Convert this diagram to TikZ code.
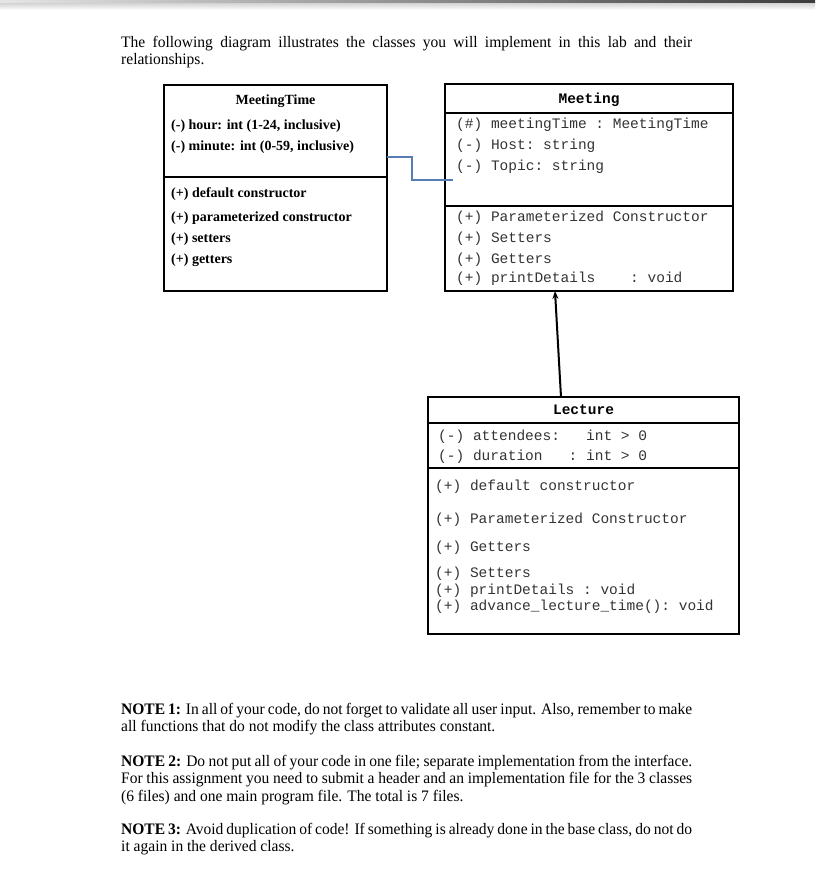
\documentclass[tikz,border=0pt]{standalone}
\usepackage{fontspec}
\setmainfont{Liberation Serif}
\setmonofont{Liberation Mono}
\newfontfamily\notefont[FakeStretch=0.97]{Liberation Serif}
\usetikzlibrary{arrows.meta,positioning,calc}
\definecolor{assocblue}{RGB}{88,124,180}
\definecolor{bandgray}{RGB}{60,60,60}

\begin{document}
\begin{tikzpicture}[x=1pt, y=-1pt, >=Stealth,
	classbox/.style={draw=black, line width=1.6pt, anchor=north west, inner sep=0pt, outer sep=0pt},
	divider/.style={line width=1.6pt, color=black},
	mtline/.style={anchor=base west, inner sep=0pt, font=\fontsize{14}{16}\selectfont\bfseries},
	mttitle/.style={mtline, anchor=base},
	codeline/.style={anchor=base west, inner sep=0pt, text=black!80, font=\fontsize{14.5}{16}\selectfont\ttfamily},
	codetitle/.style={codeline, anchor=base, text=black, font=\fontsize{14.5}{16}\selectfont\ttfamily\bfseries},
	bodytext/.style={anchor=base west, inner sep=0pt, text width=571pt, align=justify, font=\notefont\fontsize{16}{17.6}\selectfont},
	assocline/.style={line width=1.2pt, color=assocblue},
	inherit/.style={line width=2pt, ->, >={Stealth[length=8pt,width=6pt]}}
	]
	\useasboundingbox (0,0) rectangle (815,881);
	\shade[left color=gray!20, right color=bandgray] (0,0) rectangle (815,3);
	\shade[top color=gray!35, bottom color=white] (0,3) rectangle (815,10);
	
	\node[bodytext] (intro) at (121,47) {The following diagram illustrates the classes you will implement in this lab and their\linebreak relationships.};
	
	% MeetingTime
	\node[classbox, minimum width=223pt, minimum height=206pt] (meetingTime) at (164,85) {};
	\draw[divider] (meetingTime.west |- 0,177) -- (meetingTime.east |- 0,177);
	\node[mttitle] (mt-title) at (275.5,104) {MeetingTime};
	\node[mtline] (mt-1) at (171,129) {(-) hour: int (1-24, inclusive)};
	\node[mtline] (mt-2) at (171,150) {(-) minute: int (0-59, inclusive)};
	\node[mtline] (mt-3) at (171,197) {(+) default constructor};
	\node[mtline] (mt-4) at (171,221) {(+) parameterized constructor};
	\node[mtline] (mt-5) at (171,242) {(+) setters};
	\node[mtline] (mt-6) at (171,263) {(+) getters};
	
	% Meeting
	\node[classbox, minimum width=288pt, minimum height=207pt] (meeting) at (445,84) {};
	\draw[divider] (meeting.west |- 0,113) -- (meeting.east |- 0,113);
	\draw[divider] (meeting.west |- 0,206) -- (meeting.east |- 0,206);
	\node[codetitle] (m-title) at (589,103) {Meeting};
	\node[codeline] (m-1) at (456,128) {(\#) meetingTime : MeetingTime};
	\node[codeline] (m-2) at (456,149) {(-) Host: string};
	\node[codeline] (m-3) at (456,170) {(-) Topic: string};
	\node[codeline] (m-4) at (456,221) {(+) Parameterized Constructor};
	\node[codeline] (m-5) at (456,242) {(+) Setters};
	\node[codeline] (m-6) at (456,263) {(+) Getters};
	\node[codeline] (m-7) at (456,282) {(+) printDetails\ \ \ \ : void};
	
	% Lecture
	\node[classbox, minimum width=311pt, minimum height=237pt] (lecture) at (428,397) {};
	\draw[divider] (lecture.west |- 0,423) -- (lecture.east |- 0,423);
	\draw[divider] (lecture.west |- 0,468) -- (lecture.east |- 0,468);
	\node[codetitle] (l-title) at (583.5,414) {Lecture};
	\node[codeline] (l-1) at (438,440) {(-) attendees:\ \ \ int > 0};
	\node[codeline] (l-2) at (438,460) {(-) duration\ \ \ : int > 0};
	\node[codeline] (l-3) at (435,490) {(+) default constructor};
	\node[codeline] (l-4) at (435,523) {(+) Parameterized Constructor};
	\node[codeline] (l-5) at (435,551) {(+) Getters};
	\node[codeline] (l-6) at (435,577) {(+) Setters};
	\node[codeline] (l-7) at (435,594) {(+) printDetails : void};
	\node[codeline] (l-8) at (435,610) {(+) advance\_lecture\_time(): void};
	
	% connectors
	\coordinate (assocStart) at (meetingTime.east |- 0,157);
	\coordinate (assocEnd) at (453,180);
	\draw[assocline] (assocStart) -- ++(25,0) |- (assocEnd);
	\coordinate (lectureTop) at ($(lecture.north west)+(133,0)$);
	\coordinate (meetingBottom) at ($(meeting.south west)+(110,0)$);
	\draw[inherit] (lectureTop) -- (meetingBottom);
	
	% notes
	\node[bodytext] (note1) at (121,714) {\textbf{NOTE 1:} In all of your code, do not forget to validate all user input. Also, remember to make\linebreak all functions that do not modify the class attributes constant.};
	\node[bodytext] (note2) at (121,766) {\textbf{NOTE 2:} Do not put all of your code in one file; separate implementation from the interface.\linebreak For this assignment you need to submit a header and an implementation file for the 3 classes\linebreak (6 files) and one main program file. The total is 7 files.};
	\node[bodytext] (note3) at (121,834) {\textbf{NOTE 3:} Avoid duplication of code! If something is already done in the base class, do not do\linebreak it again in the derived class.};
\end{tikzpicture}
\end{document}
